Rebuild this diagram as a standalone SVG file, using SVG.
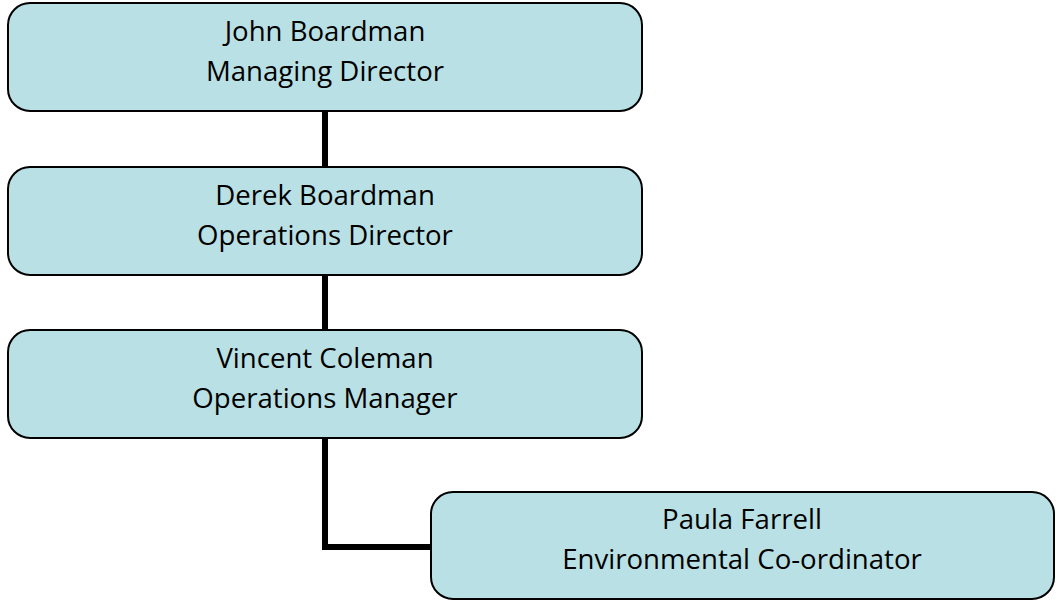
<svg xmlns="http://www.w3.org/2000/svg" width="1056" height="601" viewBox="0 0 1056 601">
<style>
.box{fill:#b9e0e4;stroke:#000;stroke-width:2}
.t{font-family:"Open Sans","Liberation Sans",sans-serif;font-size:27.6px;fill:#000;text-anchor:middle}
.c{fill:none;stroke:#000;stroke-width:6}
</style>
<rect width="1056" height="601" fill="#fff"/>
<g id="connectors">
<line class="c" x1="325" y1="111" x2="325" y2="167"/>
<line class="c" x1="325" y1="275" x2="325" y2="329"/>
<polyline class="c" points="325,438 325,547 431,547"/>
</g>
<g id="john">
<rect class="box" x="8" y="3" width="634" height="108" rx="22"/>
<text class="t" x="325" y="41">John Boardman</text>
<text class="t" x="325" y="81">Managing Director</text>
</g>
<g id="derek">
<rect class="box" x="8" y="167" width="634" height="108" rx="22"/>
<text class="t" x="325" y="205">Derek Boardman</text>
<text class="t" x="325" y="245">Operations Director</text>
</g>
<g id="vincent">
<rect class="box" x="8" y="330" width="634" height="108" rx="22"/>
<text class="t" x="325" y="368">Vincent Coleman</text>
<text class="t" x="325" y="408">Operations Manager</text>
</g>
<g id="paula">
<rect class="box" x="431" y="492" width="623" height="107" rx="22"/>
<text class="t" x="742" y="529">Paula Farrell</text>
<text class="t" x="742" y="569">Environmental Co-ordinator</text>
</g>
</svg>
